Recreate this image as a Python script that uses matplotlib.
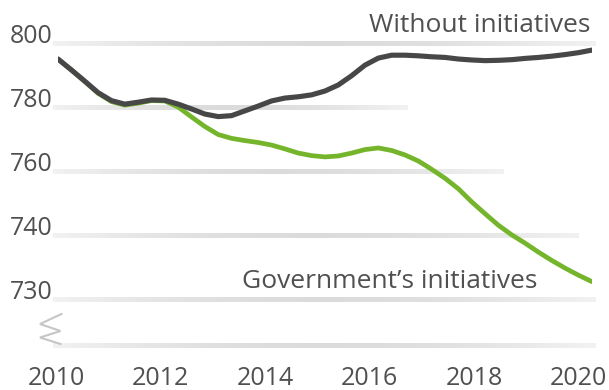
import numpy as np
import matplotlib
matplotlib.use("Agg")
import matplotlib.pyplot as plt
from matplotlib.collections import LineCollection
from matplotlib.lines import Line2D

plt.rcParams['font.family'] = ['Open Sans', 'DejaVu Sans']

# ---------------------------------------------------------------- data (quarterly readings)

years = [2010.00, 2010.25, 2010.50, 2010.75, 2011.00, 2011.25, 2011.50, 2011.75,
         2012.00, 2012.25, 2012.50, 2012.75, 2013.00, 2013.25, 2013.50, 2013.75,
         2014.00, 2014.25, 2014.50, 2014.75, 2015.00, 2015.25, 2015.50, 2015.75,
         2016.00, 2016.25, 2016.50, 2016.75, 2017.00, 2017.25, 2017.50, 2017.75,
         2018.00, 2018.25, 2018.50, 2018.75, 2019.00, 2019.25, 2019.50, 2019.75, 2020.00]

without_initiatives = [795.0, 791.6, 788.1, 784.5, 782.0, 780.9, 781.5, 782.2,
                       782.1, 780.9, 779.4, 777.8, 777.0, 777.3, 778.8, 780.3,
                       781.9, 782.8, 783.2, 783.8, 785.0, 786.9, 789.8, 793.1,
                       795.3, 796.2, 796.2, 796.0, 795.7, 795.5, 795.0, 794.7,
                       794.5, 794.6, 794.8, 795.2, 795.5, 795.9, 796.4, 797.0, 797.8]

government_initiatives = [795.0, 791.6, 788.0, 784.3, 781.7, 780.6, 781.2, 782.0,
                          781.9, 780.0, 776.9, 773.9, 771.4, 770.2, 769.5, 768.9,
                          768.1, 766.9, 765.6, 764.8, 764.4, 764.7, 765.6, 766.7,
                          767.2, 766.4, 765.0, 763.1, 760.5, 757.7, 754.4, 750.3,
                          746.6, 743.0, 740.0, 738.7, 737.3, 736.0, 734.8, 733.7, 732.7]

y_ticks = [730, 740, 760, 780, 800]
x_ticks = [2010, 2012, 2014, 2016, 2018, 2020]

# ---------------------------------------------------------------- style

GREEN = '#74b52b'
DARK = '#474747'
TEXT = '#505050'
W, H = 609, 390

# gridline right ends (in years), per tick value
grid_end = {800: 2020.02, 780: 2016.5, 760: 2018.3, 740: 2019.7, 730: 2020.02}


# broken axis: 10 units per step below 740, 20 units per step above
def fwd(v):
    v = np.asarray(v, dtype=float)
    return np.where(v >= 740, 2 + (v - 740) / 20.0, 1 + (v - 730) / 10.0)


def inv(u):
    u = np.asarray(u, dtype=float)
    return np.where(u >= 2, 740 + (u - 2) * 20.0, 730 + (u - 1) * 10.0)


def gradient_line(ax, x0, x1, y, n=120):
    # light at both ends, a bit darker in the middle
    xs = np.linspace(x0, x1, n + 1)
    segs = [[(xs[i], y), (xs[i + 1], y)] for i in range(n)]
    t = (xs[:-1] + xs[1:]) / 2
    t = (t - x0) / (x1 - x0)
    g = 0.945 - 0.085 * np.sin(np.pi * t)
    cols = [(c, c, c) for c in g]
    lc = LineCollection(segs, colors=cols, linewidths=3.6, capstyle='projecting',
                        antialiaseds=False, clip_on=False, zorder=1)
    ax.add_collection(lc)


fig = plt.figure(figsize=(W / 100, H / 100), dpi=100)
ax = fig.add_axes([58 / W, (H - 345) / H, 534 / W, 325 / H])
ax.set_yscale('function', functions=(fwd, inv))
ax.set_xlim(2010, 2020)
ax.set_ylim(722.8, 807.2)

# gridlines + baseline
for v in y_ticks:
    gradient_line(ax, 2009.95, grid_end[v], v)
gradient_line(ax, 2009.95, 2020.02, 722.8)

ax.plot(years, without_initiatives, color=DARK, lw=3.7, solid_capstyle='round',
        solid_joinstyle='round', zorder=3)
ax.plot(years, government_initiatives, color=GREEN, lw=3.4, solid_capstyle='round',
        solid_joinstyle='round', zorder=2)

for s in ax.spines.values():
    s.set_visible(False)

ax.set_yticks(y_ticks)
ax.set_yticklabels([str(v) for v in y_ticks])
ax.tick_params(axis='y', length=0, pad=4.1, labelsize=18, labelcolor=TEXT)
for lab in ax.get_yticklabels():
    lab.set_verticalalignment('baseline')
ax.yaxis.set_minor_locator(plt.NullLocator())

# year labels sit a little left of the data positions
ax.set_xticks([])
for yr in x_ticks:
    dx = -2 - (yr - 2010) * 1.15
    ax.annotate(str(yr), xy=(yr, 0), xycoords=('data', 'axes fraction'),
                xytext=(dx, -40), textcoords='offset pixels',
                ha='center', va='baseline', fontsize=18, color=TEXT)

# series labels
ax.annotate('Without initiatives', xy=(590 / W, (H - 32) / H), xycoords='figure fraction',
            ha='right', va='baseline', fontsize=19, color=TEXT)
ax.annotate('Government\u2019s initiatives', xy=(537 / W, (H - 288) / H),
            xycoords='figure fraction', ha='right', va='baseline', fontsize=19, color=TEXT)

# axis break mark
zx = np.array([61.5, 40, 60.5, 40, 60.5]) / W
zy = 1 - np.array([314, 324, 331, 337.5, 344]) / H
fig.add_artist(Line2D(zx, zy, color='#c6c6c6', lw=1.5, solid_joinstyle='miter'))

fig.savefig('out.png', dpi=100)
